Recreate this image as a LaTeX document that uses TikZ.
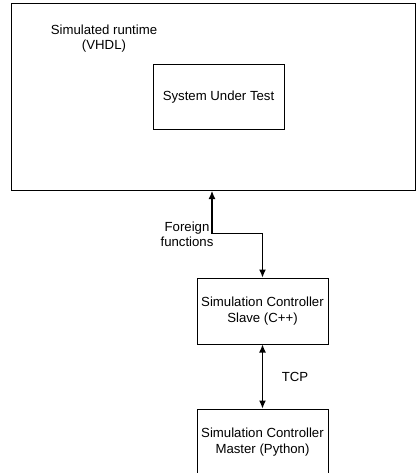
\documentclass[tikz,border=0pt]{standalone}
\usepackage{fontspec}
\setmainfont{Liberation Sans}
\usetikzlibrary{arrows.meta,positioning}
\tikzset{
	block/.style={
		draw, rectangle, line width=1pt, inner sep=0pt,
		align=center, text=black
	},
}

\begin{document}
\begin{tikzpicture}[x=1pt, y=-1pt,
			font=\fontsize{13.2}{15.5}\selectfont,
			link/.style={{Latex[length=8pt,width=7pt]}-{Latex[length=8pt,width=7pt]}, line width=1.1pt},
			tag/.style={align=center, inner sep=0pt}]
		\useasboundingbox (0,0) rectangle (416,473);
		% simulator with the design inside
		\node[block, minimum width=404pt, minimum height=186.5pt] (runtime) at (213,97.25) {};
		\node[tag] (runtimelabel) at (104,38.5) {Simulated runtime\\(VHDL)};
		\node[block, minimum width=131pt, minimum height=65pt] (sut) at (218.5,97.5) {System Under Test};
		% controller pair
		\node[block, minimum width=131pt, minimum height=66pt] (slave) at (262.5,311) {Simulation Controller\\Slave (C++)};
		\node[block, minimum width=131pt, minimum height=66pt] (master) at (262.5,442) {Simulation Controller\\Master (Python)};
		\draw[link] ([xshift=-1pt]runtime.south) -- ++(0,42.5) -| (slave.north);
		\node[tag] (fflabel) at (187,234.5) {Foreign\\functions};
		\draw[link] (slave.south) -- (master.north);
		\node[tag] (tcplabel) at (295,377) {TCP};
	\end{tikzpicture}
\end{document}
